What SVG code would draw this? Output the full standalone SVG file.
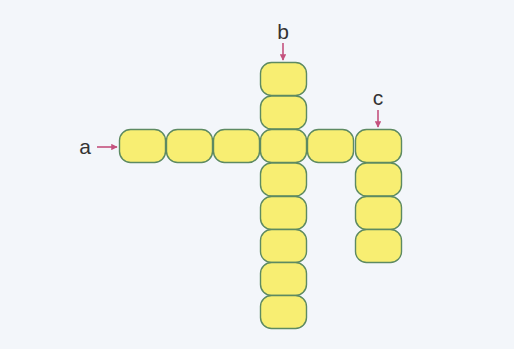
<svg xmlns="http://www.w3.org/2000/svg" width="514" height="349" viewBox="0 0 514 349">
<style>
.cell{fill:#f8ee72;stroke:#5d8a62;stroke-width:1.4}
.lbl{font-family:"Liberation Sans",Arial,sans-serif;font-size:21px;fill:#333;text-anchor:middle}
.arr{stroke:#c4527e;stroke-width:1.6;fill:none}
</style>
<defs>
<marker id="ah" viewBox="0 0 10 10" refX="9" refY="5" markerWidth="4" markerHeight="4" orient="auto">
<path d="M0,0 L10,5 L0,10 z" fill="#c4527e"/>
</marker>
<rect id="c" width="46" height="33" rx="11" ry="11" class="cell"/>
</defs>
<rect width="514" height="349" fill="#f3f6fa"/>
<g id="row">
<use href="#c" x="119.5" y="129.5"/>
<use href="#c" x="166.5" y="129.5"/>
<use href="#c" x="213.5" y="129.5"/>
<use href="#c" x="307.5" y="129.5"/>
</g>
<g id="colb">
<use href="#c" x="260.5" y="62.5"/>
<use href="#c" x="260.5" y="96"/>
<use href="#c" x="260.5" y="129.5"/>
<use href="#c" x="260.5" y="163"/>
<use href="#c" x="260.5" y="196.5"/>
<use href="#c" x="260.5" y="229.5"/>
<use href="#c" x="260.5" y="262.5"/>
<use href="#c" x="260.5" y="295.5"/>
</g>
<g id="colc">
<use href="#c" x="355.5" y="129.5"/>
<use href="#c" x="355.5" y="163"/>
<use href="#c" x="355.5" y="196.5"/>
<use href="#c" x="355.5" y="229.5"/>
</g>
<g id="labels">
<text class="lbl" x="85" y="154">a</text>
<text class="lbl" x="283" y="39">b</text>
<text class="lbl" x="378" y="105">c</text>
</g>
<g id="connectors">
<line class="arr" x1="97" y1="147" x2="117" y2="147" marker-end="url(#ah)"/>
<line class="arr" x1="283" y1="43" x2="283" y2="60" marker-end="url(#ah)"/>
<line class="arr" x1="378" y1="110" x2="378" y2="127" marker-end="url(#ah)"/>
</g>
</svg>
